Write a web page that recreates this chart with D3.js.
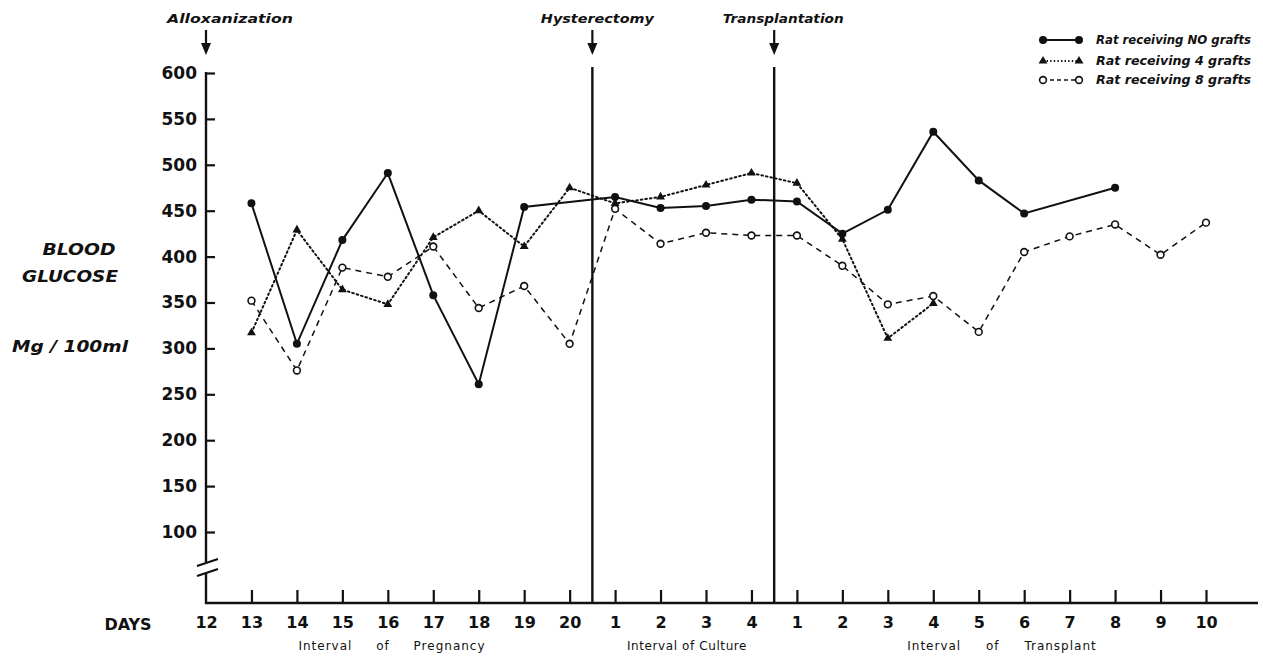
<!DOCTYPE html>
<html>
<head>
<meta charset="utf-8">
<script src="https://cdnjs.cloudflare.com/ajax/libs/d3/7.8.5/d3.min.js"></script>
<style>
  body { margin: 0; background: #fff; }
  text { font-family: "DejaVu Sans", sans-serif; fill: #111; }
</style>
</head>
<body>
<div id="chart"></div>
<script>
// day labels along the bottom (pregnancy, culture, transplant)
var days = ["12","13","14","15","16","17","18","19","20",
            "1","2","3","4",
            "1","2","3","4","5","6","7","8","9","10"];

// blood glucose, mg/100ml (null = not measured)
var noGrafts    = [null,458,305,418,491,358,261,454,null,465,453,455,462,460,425,451,536,483,447,null,475,null,null];
var fourGrafts  = [null,317,429,364,348,421,450,411,475,458,465,478,491,480,419,311,349,null,null,null,null,null,null];
var eightGrafts = [null,352,276,388,378,411,344,368,305,452,414,426,423,423,390,348,357,318,405,422,435,402,437];

var yTicks = [100,150,200,250,300,350,400,450,500,550,600];
var legendLabels = ["Rat receiving NO grafts", "Rat receiving 4 grafts", "Rat receiving 8 grafts"];
var intervalLabels = ["Interval of Pregnancy", "Interval of Culture", "Interval of Transplant"];
var eventLabels = ["Alloxanization", "Hysterectomy", "Transplantation"];

var width = 1263, height = 656;

var svg = d3.select("#chart")
  .append("svg")
    .attr("width", width)
    .attr("height", height);

// scales
var x = d3.scalePoint()
  .domain(d3.range(days.length))
  .range([206, 1206]);

var y = d3.scaleLinear()
  .domain([100, 600])
  .range([532, 73]);

var axisY = 603;

// Y axis: ticks pointing inward, labels on the left
var yAxis = svg.append("g")
  .attr("transform", "translate(206,0)")
  .call(d3.axisLeft(y).tickValues(yTicks).tickSize(-9).tickPadding(9));
yAxis.select(".domain").remove();
yAxis.selectAll("line").attr("stroke", "#111").attr("stroke-width", 2.2);
yAxis.selectAll("text")
  .style("font-size", "17px").style("font-weight", "bold")
  .style("font-family", "DejaVu Sans, sans-serif").attr("fill", "#111");

// axis line with a break near the bottom
svg.append("line").attr("x1", 206).attr("x2", 206).attr("y1", 72).attr("y2", 562)
  .attr("stroke", "#111").attr("stroke-width", 2.4);
svg.append("line").attr("x1", 206).attr("x2", 206).attr("y1", 573).attr("y2", axisY + 1)
  .attr("stroke", "#111").attr("stroke-width", 2.4);
[0, 10].forEach(function(o) {
  svg.append("line")
    .attr("x1", 197).attr("y1", 566 + o).attr("x2", 218).attr("y2", 559 + o)
    .attr("stroke", "#111").attr("stroke-width", 2.2);
});

// X axis
var xAxis = svg.append("g")
  .attr("transform", "translate(0," + axisY + ")")
  .call(d3.axisBottom(x).tickSize(-13).tickPadding(14).tickFormat(function(i) { return days[i]; }));
xAxis.select(".domain").remove();
xAxis.selectAll("line").attr("stroke", "#111").attr("stroke-width", 2.2);
xAxis.selectAll(".tick").filter(function(i) { return i === 0; }).select("line").remove();
xAxis.selectAll("text")
  .style("font-size", "16px").style("font-weight", "bold")
  .style("font-family", "DejaVu Sans, sans-serif").attr("fill", "#111");
svg.append("line").attr("x1", 205).attr("x2", 1258).attr("y1", axisY).attr("y2", axisY)
  .attr("stroke", "#111").attr("stroke-width", 2.4);

svg.append("text")
  .attr("x", 128).attr("y", 630)
  .attr("text-anchor", "middle")
  .style("font-size", "16px").style("font-weight", "bold")
  .text("DAYS");

// interval labels under the days
var intervalPos = [
  {cx: 392, ws: 19, ls: 1},
  {cx: 687, ws: 0, ls: 0.6},
  {cx: 1002, ws: 20, ls: 1}
];
svg.selectAll(".interval")
  .data(intervalLabels)
  .enter()
  .append("text")
    .attr("x", function(d, i) { return intervalPos[i].cx; })
    .attr("y", 650)
    .attr("text-anchor", "middle")
    .style("font-size", "12px")
    .style("word-spacing", function(d, i) { return intervalPos[i].ws + "px"; })
    .style("letter-spacing", function(d, i) { return intervalPos[i].ls + "px"; })
    .text(function(d) { return d; });

// y axis title
var yTitle = [
  {t: "BLOOD", x: 79, y: 255, w: 73},
  {t: "GLUCOSE", x: 70, y: 282, w: 96},
  {t: "Mg / 100ml", x: 70, y: 352, w: 116}
];
svg.selectAll(".ytitle")
  .data(yTitle)
  .enter()
  .append("text")
    .attr("x", function(d) { return d.x; })
    .attr("y", function(d) { return d.y; })
    .attr("text-anchor", "middle")
    .attr("textLength", function(d) { return d.w; })
    .attr("lengthAdjust", "spacingAndGlyphs")
    .style("font-size", "15px").style("font-weight", "bold").style("font-style", "italic")
    .text(function(d) { return d.t; });

// event lines + arrows
var hystX = (x(8) + x(9)) / 2,
    transX = (x(12) + x(13)) / 2;
var events = [
  {x: x(0), dx: 24, w: 126},
  {x: hystX, dx: 5, w: 113},
  {x: transX, dx: 9, w: 121}
];
[hystX, transX].forEach(function(vx) {
  svg.append("line")
    .attr("x1", vx).attr("x2", vx).attr("y1", 67).attr("y2", axisY)
    .attr("stroke", "#111").attr("stroke-width", 2.4);
});
events.forEach(function(e, i) {
  svg.append("line")
    .attr("x1", e.x).attr("x2", e.x).attr("y1", 30).attr("y2", 46)
    .attr("stroke", "#111").attr("stroke-width", 2.2);
  svg.append("path")
    .attr("d", "M" + (e.x - 5) + ",43L" + (e.x + 5) + ",43L" + e.x + ",55Z")
    .attr("fill", "#111");
  svg.append("text")
    .attr("x", e.x + e.dx).attr("y", 23)
    .attr("text-anchor", "middle")
    .attr("textLength", e.w)
    .attr("lengthAdjust", "spacingAndGlyphs")
    .style("font-size", "13px").style("font-weight", "bold").style("font-style", "italic")
    .text(eventLabels[i]);
});

// series
var series = [
  {values: noGrafts, dash: null, width: 2, marker: "dot"},
  {values: fourGrafts, dash: "1.6,3", width: 2, marker: "tri"},
  {values: eightGrafts, dash: "6,5", width: 1.5, marker: "ring"}
];

var line = d3.line()
  .x(function(d) { return x(d.i); })
  .y(function(d) { return y(d.v); });

var triangle = d3.symbol().type(d3.symbolTriangle).size(34);

function drawMarker(g, marker) {
  if (marker === "dot") {
    g.append("circle").attr("r", 4).attr("fill", "#111");
  } else if (marker === "ring") {
    g.append("circle").attr("r", 3.4).attr("fill", "#fff").attr("stroke", "#111").attr("stroke-width", 1.6);
  } else {
    g.append("path").attr("d", triangle()).attr("fill", "#111");
  }
}

series.forEach(function(s) {
  var pts = s.values
    .map(function(v, i) { return {i: i, v: v}; })
    .filter(function(d) { return d.v !== null; });

  svg.append("path")
    .datum(pts)
    .attr("d", line)
    .attr("fill", "none")
    .attr("stroke", "#111")
    .attr("stroke-width", s.width)
    .attr("stroke-dasharray", s.dash)
    .attr("stroke-linecap", s.marker === "tri" ? "round" : "butt");

  svg.selectAll(null)
    .data(pts)
    .enter()
    .append("g")
      .attr("transform", function(d) { return "translate(" + x(d.i) + "," + y(d.v) + ")"; })
      .each(function() { drawMarker(d3.select(this), s.marker); });
});

// legend
var legend = svg.selectAll(".legend")
  .data(series)
  .enter()
  .append("g")
    .attr("transform", function(d, i) { return "translate(0," + [40, 61, 80][i] + ")"; });
legend.append("line")
  .attr("x1", 1043).attr("x2", 1079).attr("y1", 0).attr("y2", 0)
  .attr("stroke", "#111")
  .attr("stroke-width", function(d) { return d.width; })
  .attr("stroke-dasharray", function(d) { return d.marker === "tri" ? "1.4,2.2" : (d.dash ? "4,3" : null); });
legend.each(function(d) {
  var g = d3.select(this);
  [1043, 1079].forEach(function(mx) {
    var m = g.append("g").attr("transform", "translate(" + mx + ",0)");
    drawMarker(m, d.marker);
  });
});
legend.append("text")
  .attr("x", 1096).attr("y", 4)
  .attr("textLength", 155)
  .attr("lengthAdjust", "spacingAndGlyphs")
  .style("font-size", "11.5px").style("font-weight", "bold").style("font-style", "italic")
  .text(function(d, i) { return legendLabels[i]; });
</script>
</body>
</html>
